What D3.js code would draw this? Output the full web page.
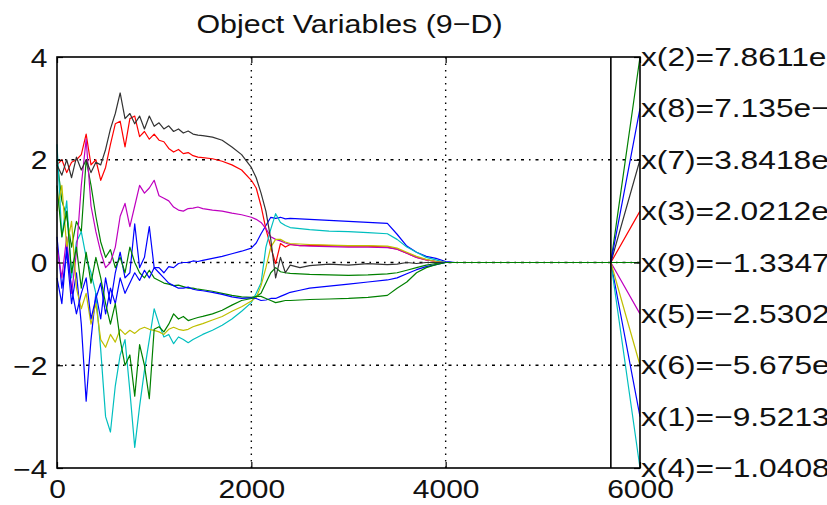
<!DOCTYPE html>
<html><head><meta charset="utf-8">
<script src="https://cdn.jsdelivr.net/npm/d3@7"></script>
<style>body{margin:0;background:#fff;}svg{display:block;}</style>
</head><body>
<svg id="c" width="827" height="505"></svg>
<script>
// ---------------- data ----------------
const iters = [0,50,100,150,200,250,300,350,400,450,500,550,600,650,700,750,800,850,900,950,
  1000,1050,1100,1150,1200,1250,1300,1350,1400,1450,1500,
  1600,1700,1800,1900,2000,2050,2100,2150,2200,2250,2300,2350,2400,
  2500,2600,2800,3000,3200,3400,3500,3600,3700,3800,3900,4000,4100,5700];

const x1 = [0.5,-0.5,0.2,-0.8,-0.2,-1.2,-2.7,-1.5,-0.6,-1.1,-0.3,-0.8,-0.2,0.2,-0.3,-0.2,0.75,-0.1,0.1,0.7,
  -0.1,-0.1,-0.2,-0.08,-0.1,-0.02,0.0,0.0,0.03,0.02,0.04,
  0.08,0.12,0.17,0.22,0.28,0.38,0.56,0.72,0.88,0.86,0.88,0.85,0.86,
  0.85,0.84,0.82,0.8,0.78,0.76,0.55,0.32,0.2,0.12,0.08,0.02,0.0,0.0];
const x2 = [2.0,1.2,0.9,0.3,0.8,0.6,2.0,1.5,0.9,0.4,0.1,0.25,-0.1,0.1,-0.2,0.3,0.0,-0.2,-0.3,-0.15,
  -0.3,-0.35,-0.4,-0.42,-0.45,-0.44,-0.47,-0.5,-0.5,-0.52,-0.53,
  -0.56,-0.6,-0.64,-0.67,-0.68,-0.66,-0.6,-0.4,-0.2,-0.1,-0.18,-0.2,-0.21,
  -0.22,-0.23,-0.24,-0.25,-0.24,-0.22,-0.2,-0.15,-0.1,-0.05,-0.02,0.0,0.0,0.0];
const x3 = [1.9,2.0,1.75,1.95,2.0,2.1,2.5,1.9,2.0,1.6,1.85,2.3,2.7,2.75,2.25,2.8,2.85,2.45,2.55,2.4,
  2.5,2.38,2.35,2.22,2.15,2.2,2.12,2.14,2.08,2.05,2.04,
  2.02,1.97,1.9,1.8,1.6,1.45,1.1,0.65,0.3,-0.02,0.37,0.3,0.35,
  0.33,0.34,0.33,0.32,0.32,0.3,0.26,0.18,0.1,0.05,0.02,0.0,0.0,0.0];
const x4 = [2.3,0.5,1.2,-0.3,0.4,0.6,0.1,-0.2,-0.6,-1.7,-3.0,-3.3,-2.4,-1.8,-1.5,-2.5,-3.6,-2.8,-2.1,-1.5,
  -0.9,-1.2,-1.45,-1.4,-1.58,-1.45,-1.5,-1.56,-1.5,-1.45,-1.4,
  -1.32,-1.22,-1.1,-0.95,-0.78,-0.6,-0.4,0.3,0.65,0.95,0.78,0.72,0.68,
  0.66,0.64,0.61,0.6,0.58,0.56,0.45,0.3,0.2,0.1,0.05,0.0,0.0,0.0];
const x5 = [0.3,-0.3,0.5,-0.6,0.2,1.5,2.4,1.1,0.6,0.2,-0.1,0.0,0.3,0.9,1.15,0.7,1.1,1.5,1.35,1.45,
  1.6,1.3,1.25,1.2,1.08,1.02,1.0,1.05,1.06,1.08,1.05,
  1.02,1.0,0.96,0.93,0.88,0.84,0.78,0.66,0.5,0.45,0.42,0.38,0.35,
  0.33,0.32,0.31,0.3,0.3,0.29,0.26,0.18,0.1,0.05,0.02,0.0,0.0,0.0];
const x6 = [1.0,1.5,0.3,0.8,-0.5,-0.9,-0.6,-1.2,-0.8,-1.5,-1.65,-1.4,-1.55,-1.3,-1.4,-1.32,-1.38,-1.3,-1.26,-1.3,
  -1.32,-1.35,-1.4,-1.3,-1.26,-1.3,-1.32,-1.3,-1.25,-1.22,-1.19,
  -1.12,-1.05,-0.95,-0.86,-0.75,-0.68,-0.45,-0.1,0.3,0.45,0.45,0.4,0.37,
  0.36,0.35,0.34,0.33,0.33,0.32,0.28,0.2,0.12,0.06,0.02,0.0,0.0,0.0];
const x7 = [1.9,1.7,2.0,1.65,2.05,1.8,2.0,1.75,1.95,1.9,2.2,2.6,2.9,3.3,2.8,2.9,2.7,2.85,2.6,2.85,
  2.65,2.72,2.6,2.66,2.55,2.6,2.52,2.56,2.5,2.48,2.47,
  2.44,2.38,2.25,2.1,1.85,1.65,1.35,1.0,0.45,-0.3,0.1,-0.2,-0.05,
  -0.1,-0.06,-0.03,-0.05,-0.02,-0.04,-0.03,0.0,-0.02,0.0,0.0,0.0,0.0,0.0];
const x8 = [-0.3,-0.8,0.3,-0.5,-1.0,-0.6,-0.3,-1.1,-0.7,-0.4,-1.0,-0.5,-0.8,-0.3,-0.6,-0.4,-0.2,-0.35,-0.15,-0.3,
  -0.1,-0.2,-0.3,-0.4,-0.45,-0.5,-0.5,-0.48,-0.52,-0.54,-0.55,
  -0.58,-0.62,-0.67,-0.7,-0.69,-0.7,-0.74,-0.73,-0.7,-0.7,-0.66,-0.62,-0.58,
  -0.54,-0.5,-0.46,-0.42,-0.38,-0.34,-0.3,-0.22,-0.14,-0.08,-0.04,0.0,0.0,0.0];
const x9 = [1.5,0.5,1.0,-0.2,0.3,-0.5,0.2,-0.4,0.1,-0.3,-0.8,-1.2,-0.8,-1.5,-2.0,-1.8,-2.6,-1.6,-2.0,-2.65,
  -1.3,-1.25,-1.35,-1.2,-1.0,-1.1,-1.05,-1.13,-1.1,-1.07,-1.05,
  -1.0,-0.93,-0.83,-0.74,-0.7,-0.66,-0.66,-0.7,-0.74,-0.78,-0.76,-0.74,-0.74,
  -0.73,-0.72,-0.71,-0.7,-0.68,-0.64,-0.5,-0.38,-0.2,-0.1,-0.04,0.0,0.0,0.0];

const varNames = ["x(1)","x(2)","x(3)","x(4)","x(5)","x(6)","x(7)","x(8)","x(9)"];
const finalValues = [-9.5213e-9, 7.8611e-9, 2.0212e-9, -1.0408e-8, -2.5302e-9, -5.675e-9, 3.8418e-9, 7.135e-9, -1.3347e-9];
const finalTexts = ["\u22129.5213e\u2212009","7.8611e\u2212009","2.0212e\u2212009","\u22121.0408e\u2212008",
  "\u22122.5302e\u2212009","\u22125.675e\u2212009","3.8418e\u2212009","7.135e\u2212009","\u22121.3347e\u2212009"];
const colors = ["#0000ff","#008000","#ff0000","#00bfbf","#bf00bf","#bfbf00","#333333","#0000ff","#008000"];
const xTicks = [0,2000,4000,6000];
const yTicks = [-4,-2,0,2,4];
const titleText = "Object Variables (9\u2212D)";

const series = [x1,x2,x3,x4,x5,x6,x7,x8,x9];

// ---------------- drawing ----------------
const FONT = "'Liberation Sans', Arial, Helvetica, sans-serif";
const SX = 1.2;
const svg = d3.select("#c");
const x = d3.scaleLinear().domain([0,6000]).range([57,640]);
const y = d3.scaleLinear().domain([-4,4]).range([468,57]);
const xMax = x.domain()[1];
const lastIter = iters[iters.length-1];

// grid
const grid = svg.append("g");
grid.selectAll("line.vg").data(xTicks.filter(d=>d>0 && d<xMax)).enter().append("line")
  .attr("x1",d=>x(d)).attr("x2",d=>x(d)).attr("y1",y(4)).attr("y2",y(-4))
  .attr("stroke","#000").attr("stroke-width",1.4).attr("stroke-dasharray","1.5,5");
grid.selectAll("line.hg").data(yTicks.filter(d=>d>-4 && d<4)).enter().append("line")
  .attr("x1",x(0)).attr("x2",x(xMax)).attr("y1",d=>y(d)).attr("y2",d=>y(d))
  .attr("stroke","#000").attr("stroke-width",1.4).attr("stroke-dasharray","3,5,1.5,5");

// label slots from ranking of final values
const order = d3.range(series.length).sort((a,b)=>finalValues[b]-finalValues[a]);
const slot = new Array(series.length);
order.forEach((idx,r)=>{ slot[idx] = 4 - r*8/(series.length-1); });

// lines
const line = d3.line().x(d=>x(d[0])).y(d=>y(d[1]));
series.forEach((vals,i)=>{
  const pts = iters.map((it,k)=>[it,vals[k]]);
  pts.push([xMax, slot[i]]);
  svg.append("path").datum(pts).attr("d",line).attr("fill","none")
    .attr("stroke",colors[i]).attr("stroke-width",1.2).attr("stroke-linejoin","round");
});

// vertical line at last iteration
svg.append("line").attr("x1",x(lastIter)).attr("x2",x(lastIter)).attr("y1",y(4)).attr("y2",y(-4))
  .attr("stroke","#000").attr("stroke-width",1.6);

// frame
svg.append("rect").attr("x",x(0)).attr("y",y(4)).attr("width",x(xMax)-x(0)).attr("height",y(-4)-y(4))
  .attr("fill","none").attr("stroke","#000").attr("stroke-width",1.6);

function styleAxis(g){
  g.select(".domain").remove();
  g.selectAll("line").attr("stroke","#000").attr("stroke-width",1.2);
  g.selectAll("text").attr("font-family",FONT).attr("font-size",25).attr("fill","#111");
}
const gx = svg.append("g").attr("transform",`translate(0,${y(-4)})`)
  .call(d3.axisBottom(x).tickValues(xTicks).tickSizeInner(-6).tickSizeOuter(0).tickPadding(12).tickFormat(d3.format("d")));
styleAxis(gx);
gx.selectAll("text").attr("transform",`scale(${SX},1)`);
const gxt = svg.append("g").attr("transform",`translate(0,${y(4)})`)
  .call(d3.axisTop(x).tickValues(xTicks).tickSizeInner(-6).tickSizeOuter(0).tickFormat(""));
styleAxis(gxt);
const gy = svg.append("g").attr("transform",`translate(${x(0)},0)`)
  .call(d3.axisLeft(y).tickValues(yTicks).tickSizeInner(-6).tickSizeOuter(0).tickPadding(8).tickFormat(d3.format("d")));
styleAxis(gy);
gy.selectAll("text").attr("transform",`scale(${SX},1)`).attr("dy","0.36em");
const gyr = svg.append("g").attr("transform",`translate(${x(xMax)},0)`)
  .call(d3.axisRight(y).tickValues(yTicks).tickSizeInner(-6).tickSizeOuter(0).tickFormat(""));
styleAxis(gyr);

// right-side labels
series.forEach((vals,i)=>{
  svg.append("text").attr("transform",`translate(${x(xMax)+1},${y(slot[i])+9}) scale(1.22,1)`)
    .attr("font-family",FONT).attr("font-size",26).attr("fill","#111")
    .text(varNames[i]+"="+finalTexts[i]);
});

// title
svg.append("text").attr("transform",`translate(${(x(0)+x(xMax))/2+1},33) scale(1.17,1)`)
  .attr("text-anchor","middle").attr("font-family",FONT).attr("font-size",26).attr("fill","#111")
  .text(titleText);
</script>
</body></html>
